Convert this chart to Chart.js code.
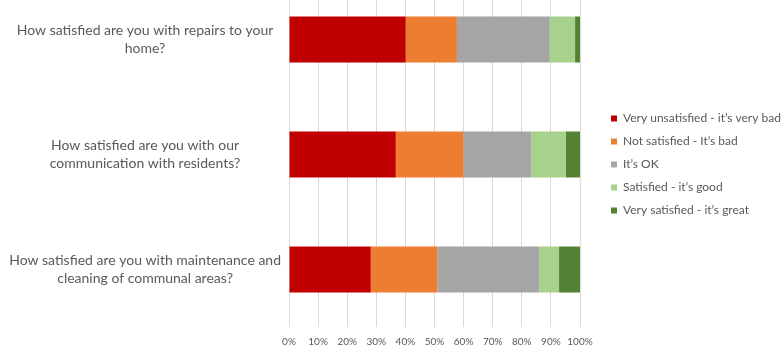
<!DOCTYPE html>
<html>
<head>
<meta charset="utf-8">
<script src="https://cdn.jsdelivr.net/npm/chart.js@4/dist/chart.umd.min.js"></script>
<style>
  html, body { margin: 0; padding: 0; background: #fff; overflow: hidden; }
  #wrap { position: absolute; left: 0; top: -22px; width: 782px; height: 373px; }
</style>
</head>
<body>
<div id="wrap"><canvas id="myChart" width="782" height="373"></canvas></div>
<script>
// questions (categories)
const questions = [
  ['How satisfied are you with repairs to your', 'home?'],
  ['How satisfied are you with our', 'communication with residents?'],
  ['How satisfied are you with maintenance and', 'cleaning of communal areas?']
]

// answer shares in % per question
const veryUnsatisfied = [40.1, 36.7, 28.1]
const notSatisfied = [17.6, 23.2, 22.9]
const itsOk = [31.9, 23.3, 35.0]
const satisfied = [8.7, 11.9, 6.8]
const verySatisfied = [1.7, 4.9, 7.2]

const seriesNames = [
  'Very unsatisfied - it\u2019s very bad',
  'Not satisfied - It\u2019s bad',
  'It\u2019s OK',
  'Satisfied - it\u2019s good',
  'Very satisfied - it\u2019s great'
]
const xTicks = [0, 10, 20, 30, 40, 50, 60, 70, 80, 90, 100]

const colors = ['#C00000', '#ED7D31', '#A5A5A5', '#A9D18E', '#548235']
const textColor = '#595959'
const fontFamily = 'Lato, "Open Sans", sans-serif'

const allSeries = [veryUnsatisfied, notSatisfied, itsOk, satisfied, verySatisfied]

// legend sits a bit away from the plot, like the original
const legendGap = {
  id: 'legendGap',
  beforeLayout(chart) {
    const lg = chart.legend
    if (lg && !lg._wrapped) {
      const fit = lg.fit
      lg.fit = function () { fit.call(this); this.width = 202 }
      lg._wrapped = true
    }
  },
  afterLayout(chart) {
    chart.legend.left += 20
    chart.legend.top -= 4
  }
}

const ctx = document.getElementById('myChart').getContext('2d')
const myChart = new Chart(ctx, {
  type: 'bar',
  data: {
    labels: questions,
    datasets: allSeries.map((vals, i) => ({
      label: seriesNames[i],
      data: vals,
      backgroundColor: colors[i],
      borderWidth: 0,
      categoryPercentage: 1,
      barPercentage: 0.4
    }))
  },
  plugins: [legendGap],
  options: {
    indexAxis: 'y',
    responsive: false,
    animation: false,
    layout: { padding: { top: 4, right: 0 } },
    plugins: {
      tooltip: { enabled: false },
      legend: {
        position: 'right',
        labels: {
          boxWidth: 6,
          boxHeight: 6,
          padding: 11,
          color: textColor,
          font: { family: fontFamily, size: 12 }
        }
      }
    },
    scales: {
      x: {
        stacked: true,
        min: 0,
        max: 100,
        afterBuildTicks: (scale) => { scale.ticks = xTicks.map(v => ({ value: v })) },
        afterFit: (scale) => { scale.height = 24; scale.paddingLeft = 0; scale.paddingRight = 0 },
        grid: { color: '#d9d9d9', drawTicks: false },
        border: { display: false },
        ticks: {
          padding: 9,
          autoSkip: false,
          maxRotation: 0,
          minRotation: 0,
          color: textColor,
          font: { family: fontFamily, size: 10 },
          callback: (v) => v + '%'
        }
      },
      y: {
        stacked: true,
        grid: { display: false, drawTicks: false },
        border: { display: false },
        afterFit: (scale) => { scale.width = 289; scale.paddingTop = 0; scale.paddingBottom = 0 },
        ticks: {
          crossAlign: 'center',
          padding: 8,
          color: textColor,
          font: { family: fontFamily, size: 14, lineHeight: 1.35 }
        }
      }
    }
  }
})
</script>
</body>
</html>
